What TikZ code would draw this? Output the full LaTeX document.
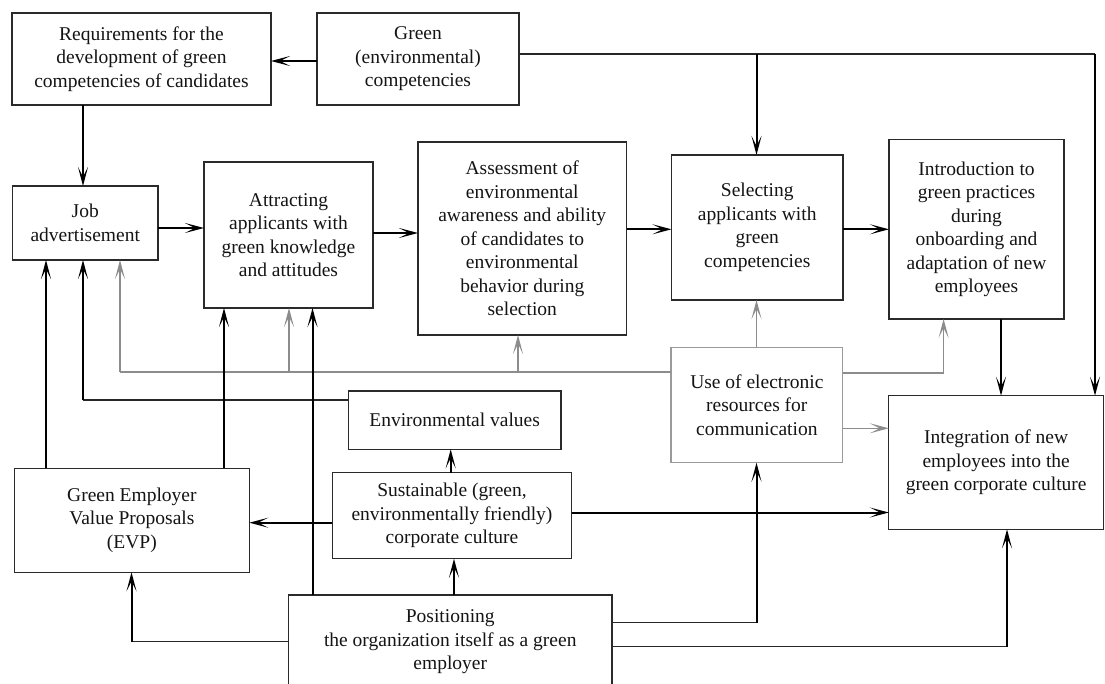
\documentclass[tikz,border=0pt]{standalone}
\usepackage{fontspec}
\setmainfont{Liberation Serif}
\usetikzlibrary{arrows.meta}
\definecolor{bordc}{HTML}{2A2A2A}
\definecolor{txtc}{HTML}{141414}
\definecolor{grayln}{HTML}{8C8C8C}
\definecolor{graybx}{HTML}{9A9A9A}
\newcommand\dgfont{\fontsize{19.5}{23.5}\selectfont}
\begin{document}
\begin{tikzpicture}[x=1pt,y=-1pt,
  box/.style={draw=bordc,line width=1.2pt,inner sep=0pt,outer sep=0pt,align=center,text=txtc,font=\dgfont},
  gbox/.style={box,draw=graybx},
  thn/.style={draw=black!85,line width=1.2pt},
  thk/.style={draw=black,line width=2pt,-{Stealth[length=19pt,width=10pt,inset=10pt]}},
  gry/.style={draw=grayln,line width=1.6pt},
  gryl/.style={gry,-{Stealth[length=19pt,width=10pt,inset=10pt]}}]
\useasboundingbox (0,0) rectangle (1105,684);

% boxes
\node[box,minimum width=259pt,minimum height=92pt] (req) at (141.5,59) {Requirements for the\\development of green\\competencies of candidates};
\node[box,minimum width=202pt,minimum height=92pt] (green) at (418,59) {Green\\(environmental)\\competencies};
\node[box,minimum width=145.5pt,minimum height=74pt] (job) at (85.25,223) {Job\\advertisement};
\node[box,minimum width=169pt,minimum height=146pt] (attract) at (288.5,235) {Attracting\\applicants with\\green knowledge\\and attitudes};
\node[box,minimum width=208.5pt,minimum height=193pt] (assess) at (522.25,238.5) {Assessment of\\environmental\\awareness and ability\\of candidates to\\environmental\\behavior during\\selection};
\node[box,minimum width=171.5pt,minimum height=145pt] (select) at (757.25,227.5) {Selecting\\applicants with\\green\\competencies};
\node[box,minimum width=175pt,minimum height=179.5pt] (intro) at (976.5,229.25) {Introduction to\\green practices\\during\\onboarding and\\adaptation of new\\employees};
\node[gbox,minimum width=171.7pt,minimum height=115.4pt] (use) at (756.85,405) {Use of electronic\\resources for\\communication};
\node[box,minimum width=212.7pt,minimum height=58.3pt] (env) at (454.65,420.15) {Environmental values};
\node[box,minimum width=239.4pt,minimum height=86pt] (sust) at (452,515.7) {Sustainable (green,\\environmentally friendly)\\corporate culture};
\node[box,minimum width=234.8pt,minimum height=104pt] (evp) at (131.9,520.3) {Green Employer\\Value Proposals\\(EVP)};
\node[box,minimum width=323.5pt,minimum height=94pt] (pos) at (450.25,642) {Positioning\\the organization itself as a green\\employer};
\node[box,minimum width=214.7pt,minimum height=133.6pt] (integ) at (996.15,462.5) {Integration of new\\employees into the\\green corporate culture};

% helper coordinates
\coordinate (x46) at (46,0);
\coordinate (x83) at (83,0);
\coordinate (x120) at (120,0);
\coordinate (x131) at (131.5,0);
\coordinate (x224) at (224,0);
\coordinate (x289) at (289,0);
\coordinate (x312) at (312.5,0);
\coordinate (x451) at (450.7,0);
\coordinate (x454) at (454,0);
\coordinate (x518) at (518,0);
\coordinate (x756) at (756.5,0);
\coordinate (x944) at (943.6,0);
\coordinate (x1001) at (1001,0);
\coordinate (x1007) at (1007,0);
\coordinate (x1095) at (1095,0);
\coordinate (y54) at (0,54);
\coordinate (y61) at (0,61);
\coordinate (y228) at (0,228);
\coordinate (y229) at (0,229.3);
\coordinate (y233) at (0,233);
\coordinate (y372) at (0,371.7);
\coordinate (y373) at (0,372.7);
\coordinate (y400) at (0,400);
\coordinate (y428) at (0,428.3);
\coordinate (y512) at (0,512.5);
\coordinate (y523) at (0,522.7);
\coordinate (y623) at (0,622.7);
\coordinate (y642) at (0,641.7);
\coordinate (y647) at (0,646.7);

% top connectors
\draw[thk] (green.west |- y61) -- (req.east |- y61);
\draw[thn] (green.east |- y54) -- (x1095 |- y54);
\draw[thk] (x1095 |- y54) -- (x1095 |- integ.north);
\draw[thk] (x756 |- y54) -- (x756 |- select.north);
\draw[thk] (x83 |- req.south) -- (x83 |- job.north);
\draw[thk] (job.east |- y228) -- (attract.west |- y228);
\draw[thk] (attract.east |- y233) -- (assess.west |- y233);
\draw[thk] (assess.east |- y229) -- (select.west |- y229);
\draw[thk] (select.east |- y229) -- (intro.west |- y229);
\draw[thk] (x1001 |- intro.south) -- (x1001 |- integ.north);

% gray connectors
\draw[gry] (use.west |- y372) -- (x120 |- y372);
\draw[gryl] (x120 |- y372) -- (x120 |- job.south);
\draw[gryl] (x289 |- y372) -- (x289 |- attract.south);
\draw[gryl] (x518 |- y372) -- (x518 |- assess.south);
\draw[gryl] (x756 |- use.north) -- (x756 |- select.south);
\draw[gryl] (use.east |- y373) -| (x944 |- intro.south);
\draw[gryl] (use.east |- y428) -- (integ.west |- y428);

% bottom connectors
\draw[thn] (env.west |- y400) -- (x83 |- y400);
\draw[thk] (x83 |- y400) -- (x83 |- job.south);
\draw[thk] (x46 |- evp.north) -- (x46 |- job.south);
\draw[thk] (x224 |- evp.north) -- (x224 |- attract.south);
\draw[thk] (x312 |- pos.north) -- (x312 |- attract.south);
\draw[thk] (x451 |- sust.north) -- (x451 |- env.south);
\draw[thk] (x454 |- pos.north) -- (x454 |- sust.south);
\draw[thk] (sust.west |- y523) -- (evp.east |- y523);
\draw[thk] (sust.east |- y512) -- (integ.west |- y512);
\draw[thn] (pos.west |- y642) -- (x131 |- y642);
\draw[thk] (x131 |- y642) -- (x131 |- evp.south);
\draw[thn] (pos.east |- y623) -- (x756 |- y623);
\draw[thk] (x756 |- y623) -- (x756 |- use.south);
\draw[thn] (pos.east |- y647) -- (x1007 |- y647);
\draw[thk] (x1007 |- y647) -- (x1007 |- integ.south);
\end{tikzpicture}
\end{document}
